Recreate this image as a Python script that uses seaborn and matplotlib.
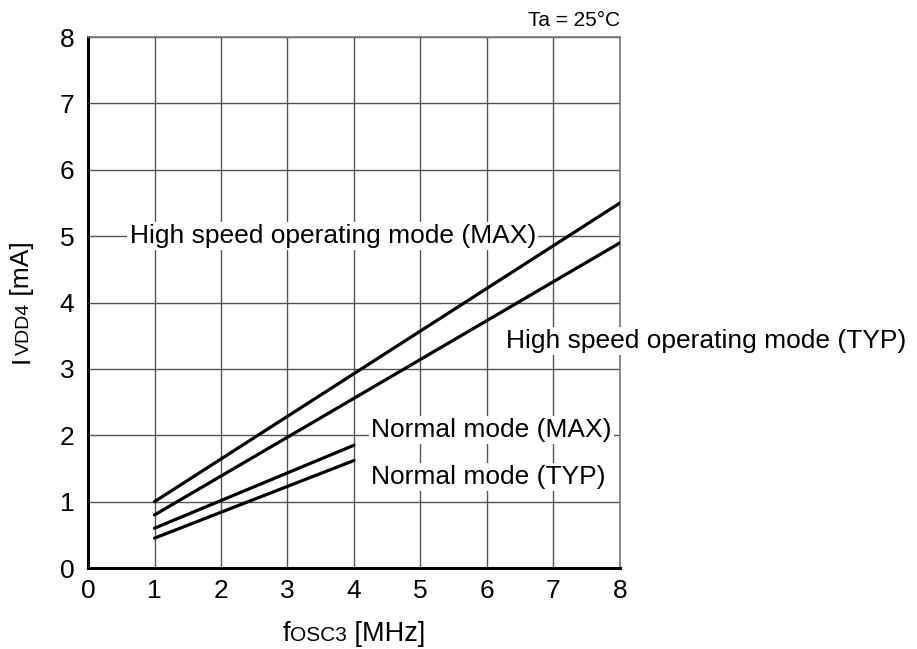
import pandas as pd
import seaborn as sns
import matplotlib.pyplot as plt

freq_high = [1, 8]
high_max = [1.0, 5.5]
high_typ = [0.8, 4.9]
freq_normal = [1, 4]
normal_max = [0.6, 1.85]
normal_typ = [0.45, 1.62]

series = ['High MAX', 'High TYP', 'Normal MAX', 'Normal TYP']
ticks = list(range(9))

df = pd.concat([
    pd.DataFrame({'f': freq_high, 'I': high_max, 'mode': series[0]}),
    pd.DataFrame({'f': freq_high, 'I': high_typ, 'mode': series[1]}),
    pd.DataFrame({'f': freq_normal, 'I': normal_max, 'mode': series[2]}),
    pd.DataFrame({'f': freq_normal, 'I': normal_typ, 'mode': series[3]}),
])

sns.set_theme(style='white')
plt.rcParams['font.family'] = ['Liberation Sans', 'DejaVu Sans']
plt.rcParams['text.color'] = 'black'

fig = plt.figure(figsize=(9.17, 6.49), dpi=100)
ax = fig.add_axes([0.096, 0.1248, 0.580, 0.818])

sns.lineplot(data=df, x='f', y='I', hue='mode', units='mode', estimator=None,
             palette=['black'] * 4, linewidth=2.3, legend=False, ax=ax, zorder=3)

ax.set_xlim(0, 8)
ax.set_ylim(0, 8)
ax.set_xticks(ticks)
ax.set_yticks(ticks)
ax.tick_params(length=0, labelsize=19, colors='black')
ax.tick_params(axis='x', pad=8)
ax.tick_params(axis='y', pad=10)
ax.set_xlabel('')
ax.set_ylabel('')
ax.grid(True, color='#555555', linewidth=1)
for side in ['left', 'bottom']:
    ax.spines[side].set_color('black')
    ax.spines[side].set_linewidth(2.2)
for side in ['top', 'right']:
    ax.spines[side].set_color('#777777')
    ax.spines[side].set_linewidth(1.2)

box = dict(facecolor='white', edgecolor='none', pad=1.5)
ax.text(3.68, 5.0, 'High speed operating mode (MAX)', fontsize=19, ha='center', va='center', bbox=box, zorder=4)
ax.text(6.28, 3.42, 'High speed operating mode (TYP)', fontsize=19, ha='left', va='center', bbox=box, zorder=4, clip_on=False)
ax.text(4.26, 2.08, 'Normal mode (MAX)', fontsize=19, ha='left', va='center', bbox=box, zorder=4)
ax.text(4.26, 1.37, 'Normal mode (TYP)', fontsize=19, ha='left', va='center', bbox=box, zorder=4)
ax.text(8, 8.1, 'Ta = 25°C', fontsize=15, ha='right', va='bottom')


def rich_label(parts, cx, cy, rotation=0):
    # pieces of text with different sizes sharing one baseline, centred on (cx, cy) in pixels
    r = fig.canvas.get_renderer()
    items = []
    for s, size in parts:
        t = fig.text(0, 0, s, fontsize=size, rotation=rotation, rotation_mode='anchor',
                     ha='left', va='baseline')
        bb = t.get_window_extent(r)
        items.append((t, bb.height if rotation else bb.width))
    total = sum(w for _, w in items)
    pos = -total / 2
    W, H = fig.bbox.width, fig.bbox.height
    for t, w in items:
        if rotation:
            t.set_position((cx / W, (H - cy + pos) / H))
        else:
            t.set_position(((cx + pos) / W, (H - cy) / H))
        pos += w


fig.canvas.draw()
rich_label([('f', 19.5), ('OSC3', 15), (' [MHz]', 19.5)], 354, 641)
rich_label([('I', 19), ('VDD4', 14), (' [mA]', 19)], 29, 302, rotation=90)

plt.savefig('out.png', dpi=100)
